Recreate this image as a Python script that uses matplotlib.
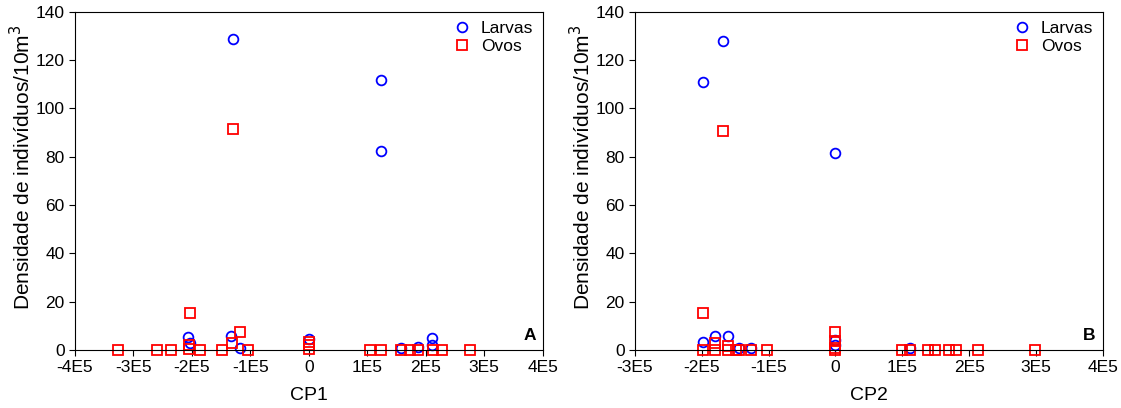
import matplotlib
matplotlib.use("Agg")
import matplotlib.pyplot as plt
from matplotlib.ticker import FuncFormatter

plt.rcParams['font.family'] = ['Liberation Sans', 'DejaVu Sans']

# Painel A (CP1)
larvas_a_x = [-2.06e5, -2.04e5, -1.33e5, -1.29e5, -1.17e5, 0, 1.23e5, 1.23e5, 1.58e5, 1.86e5, 2.10e5, 2.11e5]
larvas_a_y = [5.5, 3, 5.9, 128.8, 1, 4.4, 111.8, 82.4, 1, 1.4, 5, 2]
ovos_a_x = [-3.26e5, -2.60e5, -2.35e5, -2.05e5, -2.05e5, -2.04e5, -1.86e5, -1.49e5, -1.32e5, -1.29e5,
            -1.17e5, -1.04e5, 0, 0, 0, 1.05e5, 1.24e5, 1.57e5, 1.73e5, 1.86e5, 2.13e5, 2.28e5, 2.76e5]
ovos_a_y = [0, 0, 0, 0.3, 2, 15.5, 0, 0, 2.8, 91.5, 7.6, 0, 0.5, 2, 3.5, 0, 0, 0, 0, 0, 0, 0, 0]

# Painel B (CP2)
larvas_b_x = [-1.99e5, -1.99e5, -1.80e5, -1.69e5, -1.61e5, -1.45e5, -1.26e5, 0, 0, 0, 1.12e5]
larvas_b_y = [111, 3.2, 5.9, 128, 5.9, 1, 1, 81.7, 4, 2, 1]
ovos_b_x = [-1.99e5, -1.99e5, -1.80e5, -1.80e5, -1.69e5, -1.61e5, -1.61e5, -1.49e5, -1.44e5, -1.26e5,
            -1.03e5, 0, 0, 0, 0, 1.00e5, 1.12e5, 1.39e5, 1.49e5, 1.70e5, 1.80e5, 2.14e5, 2.99e5]
ovos_b_y = [0, 15.5, 0, 2.8, 90.7, 0, 1.5, 0, 0, 0, 0, 0, 1, 3.9, 7.3, 0, 0, 0, 0, 0, 0, 0, 0]

panels = [
    ("CP1", "A", larvas_a_x, larvas_a_y, ovos_a_x, ovos_a_y, (-4e5, 4e5)),
    ("CP2", "B", larvas_b_x, larvas_b_y, ovos_b_x, ovos_b_y, (-3e5, 4e5)),
]
positions = [[0.0669, 0.1422, 0.4172, 0.8291], [0.5665, 0.1422, 0.4172, 0.8291]]


def fmt_e5(v, pos):
    n = int(round(v / 1e5))
    return "0" if n == 0 else f"{n}E5"


fig = plt.figure(figsize=(11.21, 4.08), dpi=100)
for (xlabel, letter, lx, ly, ox, oy, xlim), rect in zip(panels, positions):
    ax = fig.add_axes(rect)
    ax.plot(lx, ly, 'o', ms=7, mfc='none', mec='#0000ff', mew=1.3, label='Larvas', clip_on=False)
    ax.plot(ox, oy, 's', ms=6.5, mfc='none', mec='#ff0000', mew=1.3, label='Ovos', clip_on=False)
    ax.set_xlim(*xlim)
    ax.set_ylim(0, 140)
    ax.set_xticks(range(int(xlim[0]), int(xlim[1]) + 1, 100000))
    ax.set_yticks(range(0, 141, 20))
    ax.xaxis.set_major_formatter(FuncFormatter(fmt_e5))
    ax.tick_params(direction='out', length=4, labelsize=12.5)
    ax.set_xlabel(xlabel, fontsize=14, labelpad=8)
    ax.set_ylabel('Densidade de indivíduos/10m$^3$', fontsize=15, labelpad=1, y=0.54)
    ax.text(0.985, 0.02, letter, transform=ax.transAxes, ha='right', va='bottom',
            fontsize=12.5, fontweight='bold')
    ax.legend(loc='upper right', frameon=False, fontsize=12.5, handletextpad=0.6,
              borderaxespad=0.15, labelspacing=0.15, handlelength=1.0)

fig.savefig("out.png", dpi=100)
